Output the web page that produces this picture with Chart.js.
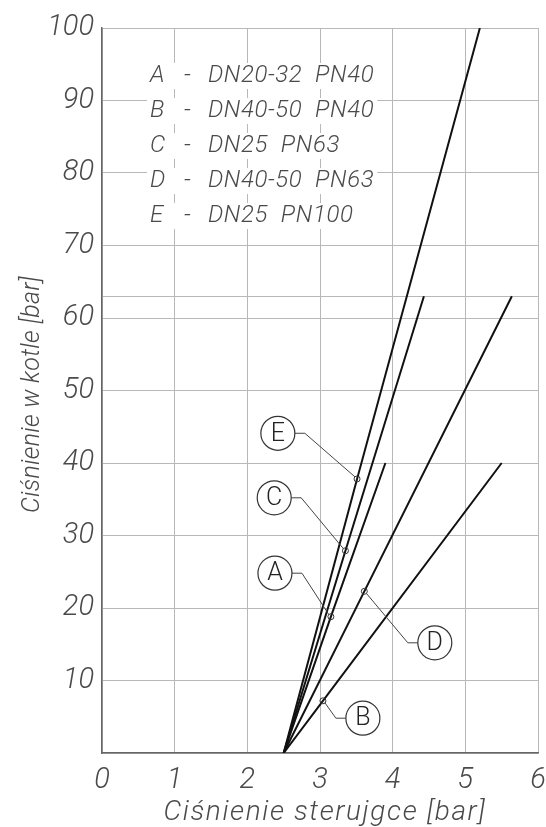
<!DOCTYPE html>
<html>
<head>
<meta charset="utf-8">
<script src="https://cdn.jsdelivr.net/npm/chart.js@4"></script>
<style>
  body { margin: 0; background: #fff; }
  #wrap { width: 546px; height: 827px; }
</style>
</head>
<body>
<div id="wrap"><canvas id="wykres"></canvas></div>
<script>
// dane
const serie = ['A', 'B', 'C', 'D', 'E'];
const opisy = ['DN20-32  PN40', 'DN40-50  PN40', 'DN25  PN63', 'DN40-50  PN63', 'DN25  PN100'];
const startX = 2.5;
const koniecX = [3.9, 5.5, 4.43, 5.64, 5.2];
const koniecY = [40, 40, 63, 63, 100];
const punktX = [3.15, 3.04, 3.35, 3.61, 3.51];
const punktY = [18.8, 7.2, 27.9, 22.3, 37.8];
const etykietaX = [2.38, 3.59, 2.37, 4.58, 2.42];
const etykietaY = [24.8, 4.8, 35.2, 15.2, 44.1];
const xTicks = [0, 1, 2, 3, 4, 5, 6];
const yTicks = [0, 10, 20, 30, 40, 50, 60, 63, 70, 80, 90, 100];
const tytulX = 'Ciśnienie sterujgce [bar]';
const tytulY = 'Ciśnienie w kotle [bar]';

const FONT = "Roboto, 'DejaVu Sans', sans-serif";
const KOLOR_TXT = '#4a4a4a';

const datasets = serie.map((s, i) => ({
    label: s,
    data: [
        { x: startX, y: 0 },
        { x: punktX[i], y: punktY[i] },
        { x: koniecX[i], y: koniecY[i] }
    ],
    showLine: true,
    borderColor: '#111',
    borderWidth: 2,
    pointRadius: [0, 3, 0],
    pointBorderColor: '#333',
    pointBorderWidth: 1,
    pointBackgroundColor: 'rgba(0,0,0,0)'
}));

const opisyPlugin = {
    id: 'opisy',
    beforeDatasetsDraw(chart) {
        const ctx = chart.ctx;
        const a = chart.chartArea;
        ctx.save();
        ctx.font = 'italic 300 24px ' + FONT;
        ctx.textBaseline = 'middle';
        serie.forEach((s, i) => {
            const y = a.top + 48 + i * 35;
            const x0 = a.left + 48;
            const xd = a.left + 82;
            const xt = a.left + 106;
            ctx.letterSpacing = '0.6px';
            const w = ctx.measureText(opisy[i]).width;
            ctx.fillStyle = '#fff';
            ctx.fillRect(x0 - 3, y - 13, xt + w - x0 + 6, 26);
            ctx.fillStyle = KOLOR_TXT;
            ctx.textAlign = 'left';
            ctx.fillText(s, x0, y);
            ctx.fillText('-', xd, y);
            ctx.fillText(opisy[i], xt, y);
        });
        ctx.restore();
    },
    afterDatasetsDraw(chart) {
        const ctx = chart.ctx;
        const sx = chart.scales.x, sy = chart.scales.y;
        const r = 17;
        ctx.save();
        serie.forEach((s, i) => {
            const cx = sx.getPixelForValue(etykietaX[i]);
            const cy = sy.getPixelForValue(etykietaY[i]);
            const px = sx.getPixelForValue(punktX[i]);
            const py = sy.getPixelForValue(punktY[i]);
            const dir = px > cx ? 1 : -1;
            ctx.strokeStyle = '#444';
            ctx.lineWidth = 1;
            ctx.beginPath();
            ctx.moveTo(cx + dir * r, cy);
            ctx.lineTo(cx + dir * (r + 10), cy);
            ctx.lineTo(px - dir * 2, py + (py > cy ? -2 : 2));
            ctx.stroke();
            ctx.beginPath();
            ctx.arc(cx, cy, r, 0, Math.PI * 2);
            ctx.fillStyle = '#fff';
            ctx.fill();
            ctx.strokeStyle = '#333';
            ctx.lineWidth = 1.2;
            ctx.stroke();
            ctx.fillStyle = '#222';
            ctx.font = '300 25px ' + FONT;
            ctx.textAlign = 'center';
            ctx.textBaseline = 'middle';
            ctx.fillText(s, cx, cy + 1);
        });
        ctx.restore();
    },
    afterDraw(chart) {
        // tytuly osi z rozstrzelonymi literami
        const ctx = chart.ctx;
        const a = chart.chartArea;
        ctx.save();
        ctx.fillStyle = KOLOR_TXT;
        ctx.textAlign = 'center';
        ctx.textBaseline = 'alphabetic';
        ctx.font = 'italic 300 28px ' + FONT;
        ctx.letterSpacing = '1.6px';
        ctx.fillText(tytulX, (a.left + a.right) / 2 + 5, chart.height - 7);
        ctx.translate(39, (a.top + a.bottom) / 2 + 4);
        ctx.rotate(-Math.PI / 2);
        ctx.font = 'italic 300 25px ' + FONT;
        ctx.letterSpacing = '0.3px';
        ctx.fillText(tytulY, 0, 0);
        ctx.restore();
    }
};

const ctx = document.getElementById('wykres').getContext('2d');
new Chart(ctx, {
    type: 'scatter',
    data: { datasets: datasets },
    plugins: [opisyPlugin],
    options: {
        responsive: true,
        maintainAspectRatio: false,
        animation: false,
        layout: { padding: { top: 28, right: 0, left: 0, bottom: 0 } },
        plugins: { legend: { display: false }, tooltip: { enabled: false } },
        scales: {
            x: {
                type: 'linear',
                min: 0,
                max: 6,
                afterBuildTicks: s => { s.ticks = xTicks.map(v => ({ value: v })); },
                afterFit: s => { s.height = 74; s.paddingRight = 8; s.paddingLeft = 0; },
                ticks: {
                    color: KOLOR_TXT,
                    padding: 10,
                    maxRotation: 0,
                    font: { family: FONT, size: 29, style: 'italic', weight: 300 }
                },
                grid: { color: '#b8b8b8', lineWidth: 1, drawTicks: false },
                border: { color: '#666', width: 1.5 },
                title: { display: false }
            },
            y: {
                min: 0,
                max: 100,
                afterBuildTicks: s => { s.ticks = yTicks.map(v => ({ value: v })); },
                afterFit: s => { s.width = 102; s.paddingTop = 0; s.paddingBottom = 0; },
                ticks: {
                    color: KOLOR_TXT,
                    padding: 8,
                    font: { family: FONT, size: 29, style: 'italic', weight: 300 },
                    callback: v => (v === 0 || v === 63) ? '' : v
                },
                grid: { color: '#b8b8b8', lineWidth: 1, drawTicks: false },
                border: { color: '#666', width: 1.5 },
                title: { display: false }
            }
        }
    }
});
</script>
</body>
</html>
